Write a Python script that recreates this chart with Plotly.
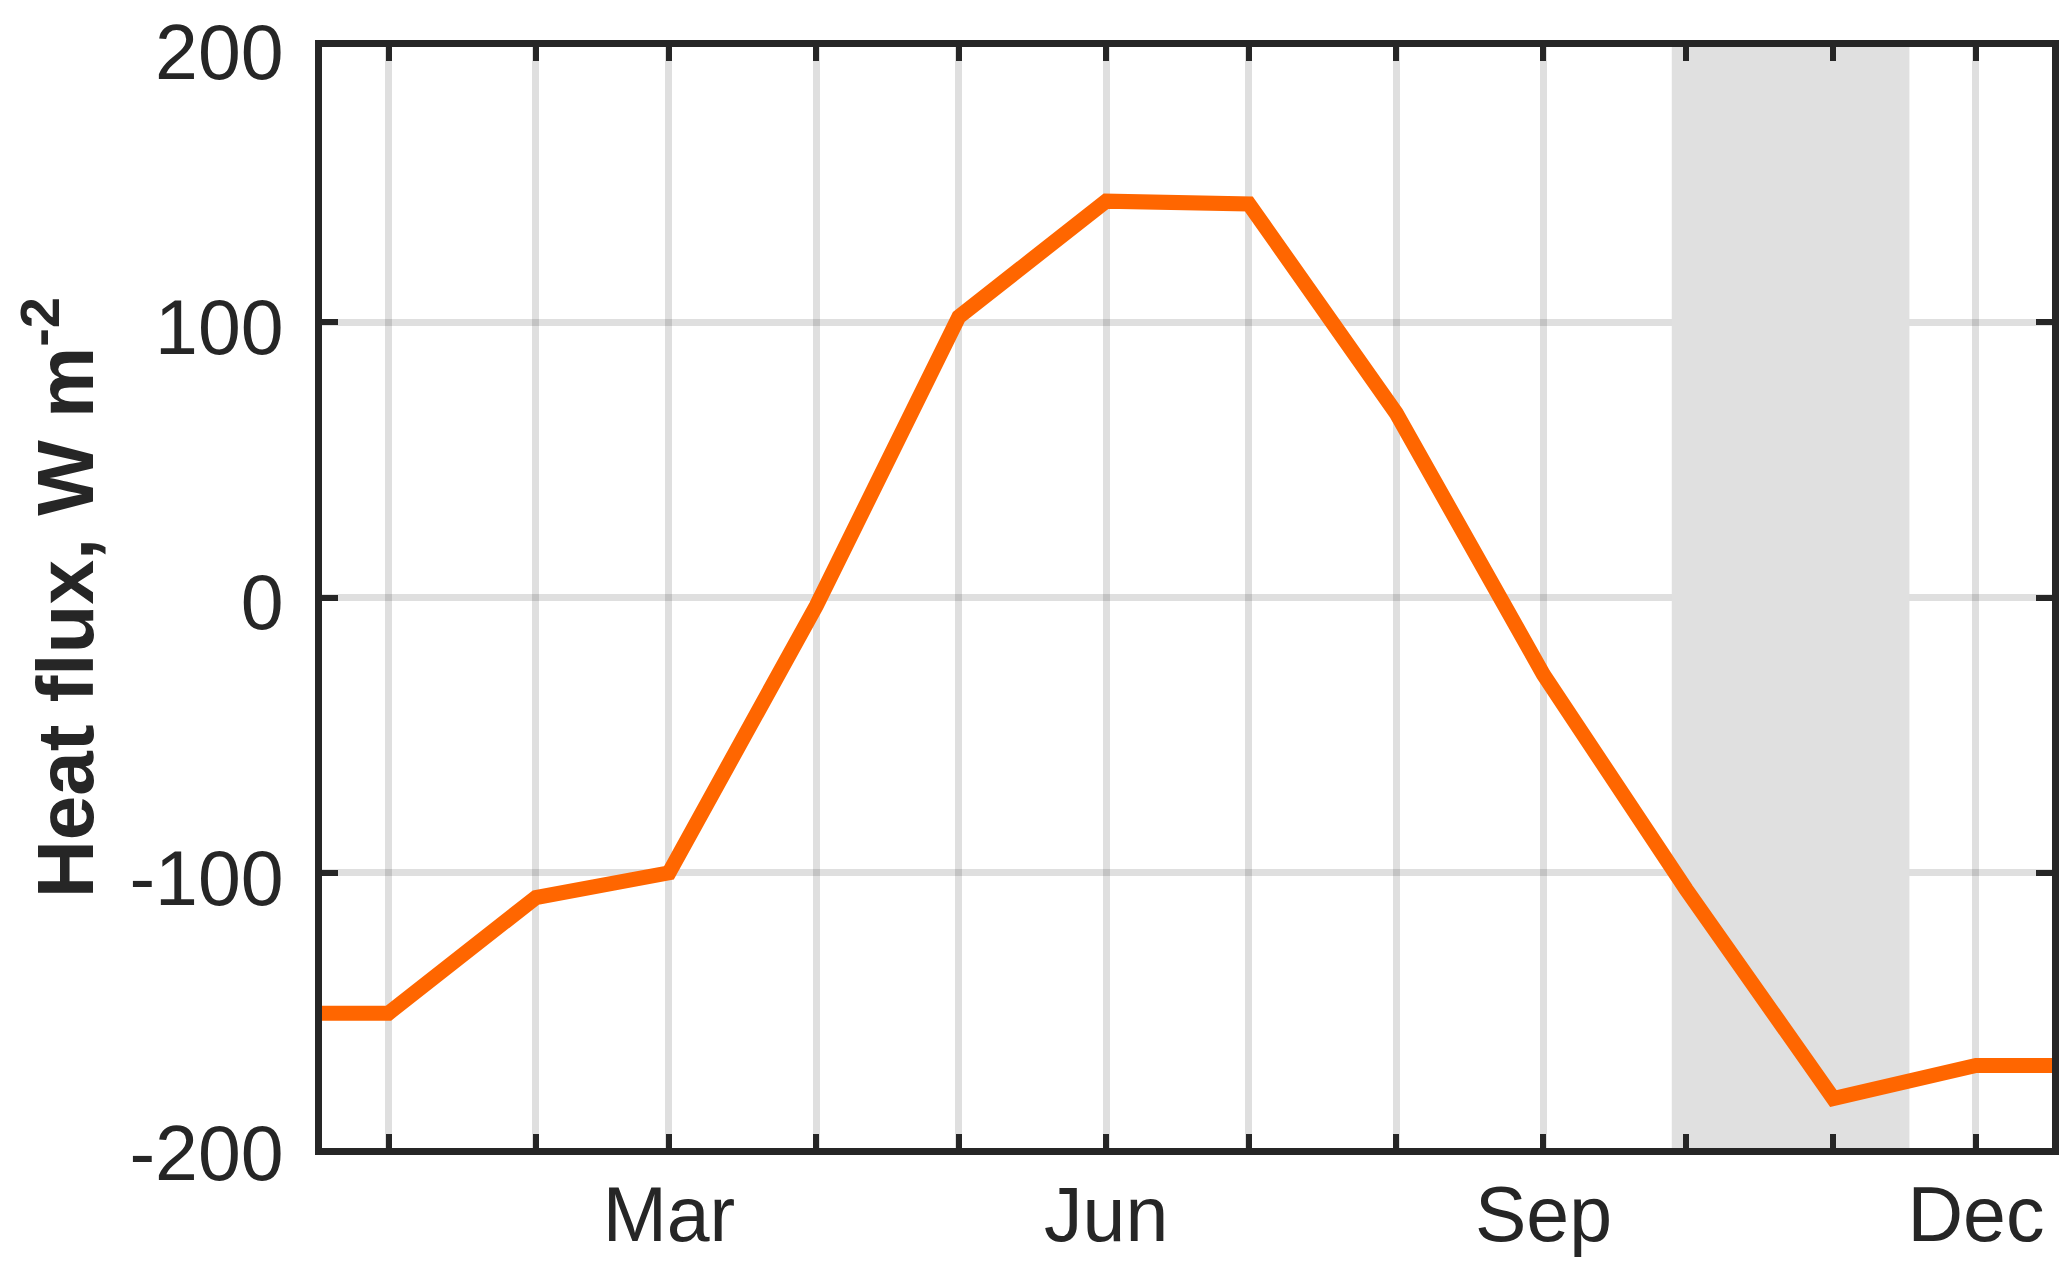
import plotly.graph_objects as go

# monthly mean heat flux, plotted at mid-month, flat to the year edges
dates = ["2001-01-01", "2001-01-15", "2001-02-15", "2001-03-15", "2001-04-15",
         "2001-05-15", "2001-06-15", "2001-07-15", "2001-08-15", "2001-09-15",
         "2001-10-15", "2001-11-15", "2001-12-15", "2001-12-31"]
heat_flux = [-151, -151, -109, -100, -3, 102, 144, 143, 67, -28, -106, -182, -170, -170]

label_dates = ["2001-03-15", "2001-06-15", "2001-09-15", "2001-12-15"]
label_text = ["Mar", "Jun", "Sep", "Dec"]
other_months = ["2001-01-15", "2001-02-15", "2001-04-15", "2001-05-15",
                "2001-07-15", "2001-08-15", "2001-10-15", "2001-11-15"]

shade_start = "2001-10-12"
shade_end = "2001-12-01"

ink = "#262626"
grid = "rgba(38,38,38,0.15)"

fig = go.Figure()
fig.add_trace(go.Scatter(x=dates, y=heat_flux, mode="lines",
                         line=dict(color="#FF6600", width=15),
                         showlegend=False))

fig.add_shape(type="rect", xref="x", yref="y",
              x0=shade_start, x1=shade_end, y0=-200, y1=200,
              fillcolor="#E0E0E0", line_width=0, layer="between")

fig.update_xaxes(
    type="date",
    range=["2001-01-01", "2001-12-31"],
    tickmode="array", tickvals=label_dates, ticktext=label_text,
    ticks="inside", ticklen=14, tickwidth=6, tickcolor=ink,
    showgrid=True, gridcolor=grid, gridwidth=7,
    minor=dict(tickmode="array", tickvals=other_months, ticks="inside",
               ticklen=14, tickwidth=6, tickcolor=ink,
               showgrid=True, gridcolor=grid, gridwidth=7),
    showline=True, linecolor=ink, linewidth=7, mirror="ticks",
    ticklabelstandoff=-6, ticklabeloverflow="allow",
    automargin=False,
    zeroline=False,
)
fig.update_yaxes(
    range=[-200, 200],
    tickmode="array", tickvals=[-200, -100, 0, 100, 200],
    ticktext=["-200", "-100", "0", "100", "200"],
    ticks="inside", ticklen=16, tickwidth=6, tickcolor=ink,
    showgrid=True, gridcolor=grid, gridwidth=7,
    showline=True, linecolor=ink, linewidth=7, mirror="ticks",
    ticklabelstandoff=16, ticklabelshift=5, ticklabeloverflow="allow",
    automargin=False,
    zeroline=False,
    title=dict(text="<b>Heat flux, W m<sup>-2</sup></b>",
               font=dict(size=80, color=ink), standoff=68),
)

fig.update_layout(
    width=2067, height=1267,
    margin=dict(l=314, r=23, t=39, b=127),
    font=dict(family="Liberation Sans, Arial, sans-serif", size=77, color=ink),
    plot_bgcolor="white", paper_bgcolor="white",
)

fig.write_html("out.html")
